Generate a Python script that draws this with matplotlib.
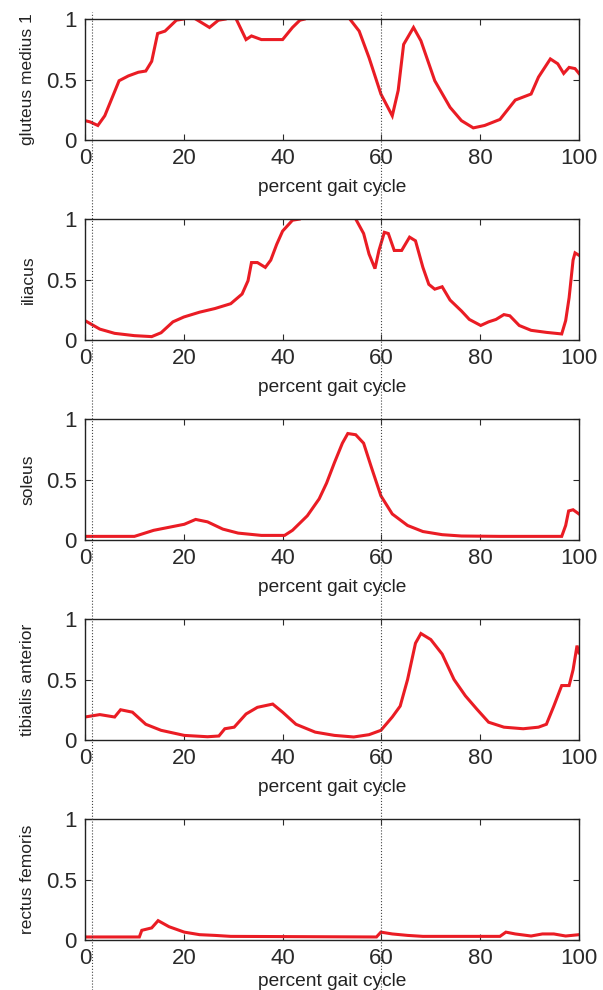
import matplotlib.pyplot as plt
import matplotlib.transforms as mtransforms
from matplotlib.lines import Line2D

plt.rcParams['font.family'] = ['Liberation Sans', 'DejaVu Sans']

# muscle activation traces (x = percent gait cycle)
glut_x = [0, 1, 2.6, 4, 5.3, 6.9, 8.8, 10.8, 12.3, 13.5, 14.7, 16.2, 18.5, 20, 21, 22.4,
          25.2, 27, 28.5, 30, 30.6, 32.6, 33.7, 35.7, 37.3, 40, 42, 43.5, 44.5, 46, 52,
          53.6, 55.5, 57.5, 59.9, 62.2, 63.4, 64.5, 66.5, 68, 70.8, 73.9, 76.2, 78.6,
          80.9, 84, 87.1, 90.3, 91.8, 94.2, 95.7, 96.9, 98, 99.2, 100]
glut_y = [0.16, 0.15, 0.12, 0.2, 0.33, 0.49, 0.53, 0.56, 0.57, 0.65, 0.88, 0.9, 0.99, 1.0,
          1.03, 1.0, 0.93, 0.99, 1.0, 1.03, 1.0, 0.83, 0.86, 0.83, 0.83, 0.83, 0.93, 0.99,
          1.0, 1.1, 1.1, 1.0, 0.9, 0.68, 0.38, 0.2, 0.41, 0.79, 0.93, 0.82, 0.49, 0.27,
          0.16, 0.1, 0.12, 0.17, 0.33, 0.38, 0.52, 0.67, 0.63, 0.55, 0.6, 0.59, 0.55]

ilia_x = [0, 3, 6, 10, 13.5, 15.4, 17.8, 20, 23.2, 26.3, 29.5, 31.8, 33, 33.7, 34.9,
          36.5, 37.6, 38.8, 40, 42, 43.5, 45, 53, 54.8, 56.4, 57.5, 58.7, 59.5, 60.6,
          61.4, 62.6, 64.1, 65.7, 66.9, 68.4, 69.6, 70.8, 72.3, 73.9, 76.2, 77.8, 80.1,
          81.7, 83.2, 84.8, 86, 87.9, 90.3, 93.4, 96.5, 97.3, 98, 98.8, 99.2, 100]
ilia_y = [0.16, 0.09, 0.055, 0.036, 0.028, 0.06, 0.15, 0.19, 0.23, 0.26, 0.3, 0.38, 0.49,
          0.64, 0.64, 0.6, 0.66, 0.79, 0.9, 0.99, 1.0, 1.1, 1.1, 1.0, 0.88, 0.71, 0.59,
          0.74, 0.89, 0.88, 0.74, 0.74, 0.85, 0.82, 0.6, 0.46, 0.42, 0.44, 0.33, 0.24,
          0.17, 0.12, 0.15, 0.17, 0.21, 0.2, 0.12, 0.08, 0.063, 0.05, 0.16, 0.35, 0.66,
          0.72, 0.7]

sol_x = [0, 10, 10.8, 13.9, 17, 20.1, 22.4, 24.8, 27.9, 31, 35.7, 40.4, 42, 45, 47.4,
         48.9, 50.5, 52.1, 53.2, 54.8, 56.4, 57.9, 59.9, 62.2, 65.3, 68.4, 72.3, 76.2,
         84, 96.5, 97.3, 97.9, 98.8, 100]
sol_y = [0.03, 0.03, 0.04, 0.08, 0.105, 0.13, 0.17, 0.15, 0.09, 0.057, 0.038, 0.038,
         0.08, 0.2, 0.34, 0.47, 0.64, 0.8, 0.88, 0.87, 0.8, 0.61, 0.365, 0.215, 0.12,
         0.07, 0.044, 0.033, 0.03, 0.03, 0.12, 0.24, 0.25, 0.215]

tib_x = [0, 3, 6, 7.2, 9.6, 12.3, 15.4, 20.1, 24.8, 27.1, 28.3, 30.2, 32.6, 34.9, 38, 40,
         42.7, 46.6, 50.5, 54.4, 57.5, 59.9, 62.2, 63.8, 65.3, 66.9, 68, 70, 72.3, 74.7,
         77, 79.3, 81.7, 84.8, 88.7, 91.8, 93.4, 94.9, 96.5, 98, 98.8, 99.6, 100]
tib_y = [0.19, 0.21, 0.19, 0.25, 0.23, 0.13, 0.08, 0.038, 0.027, 0.033, 0.093, 0.106,
         0.215, 0.27, 0.297, 0.23, 0.13, 0.065, 0.038, 0.025, 0.044, 0.08, 0.19, 0.28,
         0.5, 0.8, 0.88, 0.83, 0.71, 0.5, 0.365, 0.256, 0.147, 0.106, 0.093, 0.106, 0.13,
         0.28, 0.45, 0.45, 0.58, 0.78, 0.72]

rect_x = [0, 11, 11.5, 13.5, 14.8, 17, 20.1, 23.2, 26.3, 29.5, 59, 59.9, 62.2, 65.3, 68.4,
          84, 85.2, 87.1, 90.3, 92.6, 94.9, 97.3, 100]
rect_y = [0.025, 0.025, 0.08, 0.1, 0.16, 0.11, 0.065, 0.044, 0.038, 0.03, 0.025, 0.065,
          0.05, 0.038, 0.03, 0.03, 0.065, 0.05, 0.033, 0.05, 0.05, 0.033, 0.044]

muscles = ['gluteus medius 1', 'iliacus', 'soleus', 'tibialis anterior', 'rectus femoris']
traces = [(glut_x, glut_y), (ilia_x, ilia_y), (sol_x, sol_y), (tib_x, tib_y), (rect_x, rect_y)]
event_marks = [1.4, 60]

W, H = 603, 990
fig = plt.figure(figsize=(W / 100, H / 100), dpi=100)
axes = []
for i, (name, (xs, ys)) in enumerate(zip(muscles, traces)):
    ax = fig.add_axes([85 / W, 1 - (140 + 200 * i) / H, 494 / W, 121 / H])
    ax.plot(xs, ys, color='#ea1c24', lw=2.2, solid_joinstyle='miter')
    ax.set_xlim(0, 100)
    ax.set_ylim(0, 1)
    ax.set_xticks(range(0, 101, 20))
    ax.set_yticks([0, 0.5, 1])
    ax.set_yticklabels(['0', '0.5', '1'])
    ax.tick_params(direction='in', length=4, width=0.8, top=True, right=True,
                   labelsize=16, colors='#2a2a2a', pad=6)
    for sp in ax.spines.values():
        sp.set_linewidth(1.0)
        sp.set_color('#222222')
    ax.set_xlabel('percent gait cycle', fontsize=13.8, color='#222222', va='center')
    # last label sits right at the bottom edge, nudge it up so it stays on the canvas
    ax.xaxis.set_label_coords(0.5, (-48 if i < 4 else -41) / 121)
    ax.set_ylabel(name, fontsize=12.5, color='#222222', va='center')
    ax.yaxis.set_label_coords(-57 / 494, 0.5)
    axes.append(ax)

# dotted event lines spanning the whole figure
trans = mtransforms.blended_transform_factory(axes[0].transData, fig.transFigure)
for xm in event_marks:
    fig.add_artist(Line2D([xm, xm], [0, 1 - 12 / H], transform=trans,
                          color='#444444', lw=0.8, ls=':', zorder=5))

fig.savefig('out.png', dpi=100)
